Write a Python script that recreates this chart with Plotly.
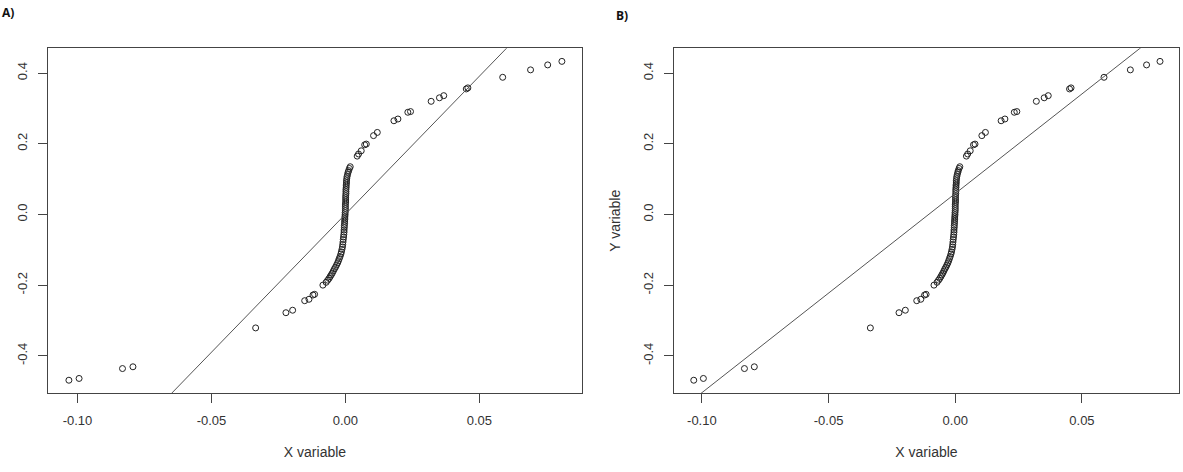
import plotly.graph_objects as go

# ---- data (sorted quantiles) ----
x_values = [
    -0.1032, -0.0994, -0.0832, -0.0793, -0.0335, -0.0222, -0.0197, -0.0152,
    -0.0136, -0.0121, -0.0115, -0.0084, -0.0072, -0.0066, -0.0061, -0.0057,
    -0.0053, -0.0049, -0.0045, -0.0041, -0.0037, -0.0033, -0.0029, -0.0026,
    -0.0023, -0.0020, -0.0017, -0.0015, -0.0013, -0.0011, -0.0010, -0.0009,
    -0.0008, -0.0007, -0.0006, -0.0005, -0.0005, -0.0004, -0.0004, -0.0003,
    -0.0003, -0.0002, -0.0002, -0.0001, -0.0001, 0.0000, 0.0000, 0.0000,
    0.0000, 0.0001, 0.0001, 0.0001, 0.0001, 0.0002, 0.0002, 0.0002,
    0.0003, 0.0003, 0.0004, 0.0004, 0.0005, 0.0006, 0.0008, 0.0010,
    0.0012, 0.0015, 0.0018, 0.0044, 0.0049, 0.0059, 0.0072, 0.0078,
    0.0105, 0.0119, 0.0181, 0.0196, 0.0233, 0.0243, 0.0320, 0.0351,
    0.0367, 0.0451, 0.0457, 0.0587, 0.0691, 0.0755, 0.0808,
]
y_values = [
    -0.469, -0.464, -0.436, -0.431, -0.321, -0.278, -0.271, -0.244,
    -0.240, -0.228, -0.226, -0.200, -0.192, -0.186, -0.181, -0.176,
    -0.171, -0.166, -0.160, -0.154, -0.149, -0.143, -0.137, -0.131,
    -0.125, -0.119, -0.112, -0.106, -0.099, -0.092, -0.085, -0.078,
    -0.071, -0.064, -0.057, -0.050, -0.044, -0.037, -0.031, -0.025,
    -0.019, -0.013, -0.007, -0.001, 0.005, 0.011, 0.017, 0.023,
    0.029, 0.035, 0.041, 0.047, 0.053, 0.059, 0.065, 0.071,
    0.077, 0.083, 0.089, 0.095, 0.101, 0.107, 0.113, 0.119,
    0.124, 0.130, 0.135, 0.165, 0.171, 0.180, 0.197, 0.199,
    0.223, 0.232, 0.265, 0.270, 0.289, 0.291, 0.320, 0.330,
    0.336, 0.355, 0.358, 0.388, 0.409, 0.423, 0.433,
]

# reference lines (intercept, slope) for panel A and panel B
line_a = {"intercept": 0.0006, "slope": 7.81}
line_b = {"intercept": 0.0592, "slope": 5.635}
line_x_span = [-0.2, 0.2]

x_tick_vals = [-0.10, -0.05, 0.00, 0.05]
x_tick_text = ["-0.10", "-0.05", "0.00", "0.05"]
y_tick_vals = [-0.4, -0.2, 0.0, 0.2, 0.4]
y_tick_text = ["-0.4", "-0.2", "0.0", "0.2", "0.4"]

x_range = [-0.111, 0.0883]
y_range = [-0.506, 0.470]

W, H = 1183, 472
FONT = "Liberation Sans, Arial, sans-serif"
AXIS_COL = "#444444"
TEXT_COL = "#333333"

fig = go.Figure()

for xa, ya, ln in (("x", "y", line_a), ("x2", "y2", line_b)):
    fig.add_trace(go.Scatter(
        x=x_values, y=y_values, mode="markers", xaxis=xa, yaxis=ya,
        marker=dict(symbol="circle-open", size=6, color="#222222",
                    line=dict(width=1, color="#222222")),
        hoverinfo="skip", showlegend=False))
    fig.add_trace(go.Scatter(
        x=line_x_span,
        y=[ln["intercept"] + ln["slope"] * v for v in line_x_span],
        mode="lines", xaxis=xa, yaxis=ya,
        line=dict(color="#555555", width=1),
        hoverinfo="skip", showlegend=False))

def px_x(p):
    return p / W

def px_y(p):
    return 1 - p / H

common_axis = dict(
    showgrid=False, zeroline=False, showline=True, mirror=True,
    linecolor=AXIS_COL, linewidth=1, ticks="outside", ticklen=9,
    tickcolor=AXIS_COL, tickwidth=1,
    tickfont=dict(family=FONT, size=13, color=TEXT_COL),
)

y_dom = [px_y(393.3), px_y(48.3)]

fig.update_layout(
    width=W, height=H,
    margin=dict(l=0, r=0, t=0, b=0),
    paper_bgcolor="white", plot_bgcolor="white",
    showlegend=False,
    xaxis=dict(common_axis, domain=[px_x(48), px_x(582)], range=x_range,
               tickvals=x_tick_vals, ticktext=x_tick_text, anchor="y",
               ticklabelstandoff=6,
               title=dict(text="X variable", standoff=20,
                          font=dict(family=FONT, size=14, color=TEXT_COL))),
    yaxis=dict(common_axis, domain=y_dom, range=y_range,
               tickvals=y_tick_vals, ticktext=y_tick_text, anchor="x",
               tickangle=-90, ticklabelstandoff=6),
    xaxis2=dict(common_axis, domain=[px_x(674), px_x(1179)], range=x_range,
                tickvals=x_tick_vals, ticktext=x_tick_text, anchor="y2",
                ticklabelstandoff=6,
                title=dict(text="X variable", standoff=20,
                           font=dict(family=FONT, size=14, color=TEXT_COL))),
    yaxis2=dict(common_axis, domain=y_dom, range=y_range,
                tickvals=y_tick_vals, ticktext=y_tick_text, anchor="x2",
                tickangle=-90, ticklabelstandoff=6,
                title=dict(text="Y variable", standoff=16,
                           font=dict(family=FONT, size=14, color=TEXT_COL))),
    annotations=[
        dict(text="<b>A)</b>", x=px_x(0), y=px_y(12), xref="paper", yref="paper",
             xanchor="left", yanchor="middle", showarrow=False,
             font=dict(family="Open Sans, Liberation Sans, sans-serif", size=12, color="#111111")),
        dict(text="<b>B)</b>", x=px_x(614), y=px_y(15), xref="paper", yref="paper",
             xanchor="left", yanchor="middle", showarrow=False,
             font=dict(family="Open Sans, Liberation Sans, sans-serif", size=12, color="#111111")),
    ],
)

fig.write_html("out.html")
